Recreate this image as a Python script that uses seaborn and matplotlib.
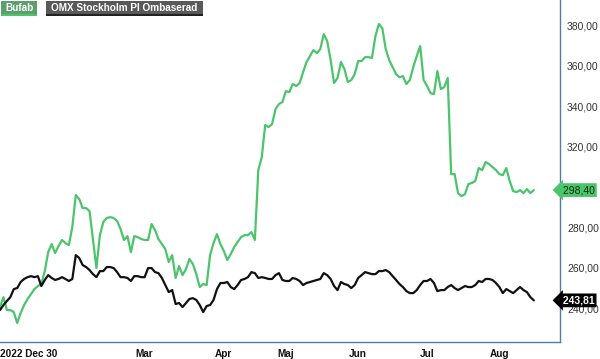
import matplotlib
matplotlib.use("Agg")
import matplotlib.pyplot as plt
import matplotlib.transforms as mtransforms
from matplotlib.patches import Rectangle
import seaborn as sns
import pandas as pd

sns.set_theme(style="white")
plt.rcParams['font.family'] = ['Liberation Sans', 'DejaVu Sans']

# ---- data (one value per trading day, starting 2022-12-30) ----
bufab = [240.5, 245.4, 239.0, 239.0, 238.0, 232.6, 237.5, 241.5, 244.5, 246.9,
         249.4, 250.9, 251.9, 258.3, 267.7, 271.7, 267.2, 270.7, 273.7, 272.2,
         271.2, 280.1, 295.9, 294.0, 289.5, 289.5, 288.0, 273.7, 259.8, 276.1,
         282.6, 284.6, 285.0, 284.6, 283.1, 279.1, 273.7, 275.6, 267.7, 275.6,
         275.1, 274.2, 273.7, 273.7, 281.6, 278.6, 274.2, 271.7, 269.2, 262.8,
         266.2, 254.9, 260.8, 256.3, 259.3, 264.3, 261.8, 256.8, 250.4, 251.9,
         251.4, 266.2, 272.2, 276.6, 271.7, 268.2, 263.8, 266.7, 270.2, 272.7,
         275.1, 276.1, 276.1, 277.6, 273.7, 308.3, 314.7, 330.6, 329.6, 331.1,
         338.5, 341.0, 342.0, 347.4, 346.9, 350.9, 349.9, 351.4, 356.8, 361.8,
         364.7, 367.7, 366.2, 368.2, 375.6, 372.2, 362.8, 351.4, 353.9, 361.8,
         358.3, 351.9, 352.9, 355.8, 362.3, 362.3, 364.2, 364.2, 363.8, 374.6,
         380.6, 378.6, 368.2, 362.8, 359.3, 355.8, 354.3, 354.8, 350.9, 352.9,
         359.3, 364.7, 369.7, 352.9, 349.9, 346.4, 345.9, 357.3, 348.4, 349.4,
         353.9, 306.3, 306.3, 296.9, 295.4, 296.4, 301.4, 301.9, 302.9, 309.3,
         308.3, 312.3, 311.3, 309.8, 308.3, 306.3, 305.8, 309.3, 302.9, 297.9,
         297.4, 298.4, 296.9, 298.9, 296.9, 298.40]

omx = [239.0, 241.5, 243.5, 245.4, 249.4, 249.9, 252.9, 254.4, 255.3, 255.8,
       255.3, 255.8, 250.9, 253.9, 256.3, 254.9, 253.9, 254.4, 255.3, 254.4,
       253.4, 254.4, 266.2, 264.8, 261.3, 260.3, 258.8, 256.8, 255.3, 258.3,
       258.3, 260.3, 260.3, 259.8, 257.8, 255.3, 255.3, 254.9, 253.4, 255.8,
       255.8, 255.3, 255.3, 259.8, 259.8, 257.8, 257.3, 254.9, 251.4, 247.9,
       248.9, 242.0, 242.5, 240.5, 242.5, 244.5, 244.9, 244.0, 241.5, 238.0,
       241.0, 241.5, 244.0, 249.4, 252.4, 252.4, 252.9, 250.4, 249.4, 251.4,
       253.9, 254.4, 255.3, 257.8, 257.3, 254.9, 255.3, 254.9, 254.4, 254.4,
       256.3, 257.3, 253.9, 253.4, 253.4, 254.9, 254.4, 253.4, 251.4, 252.4,
       252.9, 253.4, 253.9, 254.4, 257.3, 256.3, 254.4, 250.9, 248.9, 252.9,
       251.9, 251.4, 249.9, 251.4, 254.9, 256.3, 257.8, 257.3, 256.8, 256.8,
       258.3, 258.3, 258.8, 257.8, 255.8, 253.9, 251.9, 250.4, 248.4, 247.4,
       247.4, 248.9, 251.4, 253.4, 253.4, 254.4, 252.4, 248.4, 248.9, 248.9,
       250.4, 251.4, 249.9, 248.9, 249.9, 250.9, 250.4, 250.4, 251.4, 253.4,
       252.9, 254.4, 254.4, 253.9, 252.4, 250.4, 247.4, 249.4, 248.4, 247.4,
       248.9, 250.4, 248.9, 247.9, 245.4, 243.81]

series_names = ["Bufab", "OMX Stockholm PI Ombaserad"]
month_tick_days = [0, 22, 42, 65, 83, 104, 124, 145]
month_tick_labels = ["2022 Dec 30", "", "Mar", "Apr", "Maj", "Jun", "Jul", "Aug"]
event_day = 78
y_ticks = [240, 260, 280, 320, 340, 360, 380]

GREEN = "#4cc46c"
SPINE = "#4f7fa6"

df = pd.DataFrame({
    "day": list(range(len(bufab))) * 2,
    "value": bufab + omx,
    "series": [series_names[0]] * len(bufab) + [series_names[1]] * len(omx),
})

fig = plt.figure(figsize=(6, 3.59), dpi=100)
ax = fig.add_axes([0, 17 / 359, 560 / 600, 342 / 359])

sns.lineplot(data=df, x="day", y="value", hue="series",
             palette={series_names[0]: GREEN, series_names[1]: "#111111"},
             linewidth=1.6, legend=False, ax=ax)

ax.set_xlim(0, 162.6)
ax.set_ylim(223.2, 392.5)
ax.set_xlabel("")
ax.set_ylabel("")

for s in ["top", "left"]:
    ax.spines[s].set_visible(False)
for s in ["right", "bottom"]:
    ax.spines[s].set_color(SPINE)
    ax.spines[s].set_linewidth(1.0)

# y axis on the right
ax.yaxis.tick_right()
ax.set_yticks(y_ticks)
ax.set_yticklabels([f"{v:.2f}".replace(".", ",") for v in y_ticks])
ax.tick_params(axis="y", length=0, pad=5, labelsize=7.5, labelcolor="#333333")

# x axis
ax.set_xticks(month_tick_days + [event_day])
ax.set_xticklabels(month_tick_labels + [""])
ax.tick_params(axis="x", length=4.5, width=1.0, color=SPINE, pad=0.5,
               labelsize=7.2, labelcolor="#111111")
for lbl in ax.get_xticklabels():
    lbl.set_fontweight("bold")
ax.get_xticklabels()[0].set_horizontalalignment("left")
ax.xaxis.get_major_ticks()[-1].tick1line.set_color("#e04040")

# last-value tags
trans = mtransforms.blended_transform_factory(ax.transAxes, ax.transData)
ax.text(1.0, bufab[-1], " " + f"{bufab[-1]:.2f}".replace(".", ","), transform=trans,
        ha="left", va="center", fontsize=7.5, color="#0f2d14", clip_on=False,
        bbox=dict(boxstyle="larrow,pad=0.18", fc=GREEN, ec="none"))
ax.text(1.0, omx[-1], " " + f"{omx[-1]:.2f}".replace(".", ","), transform=trans,
        ha="left", va="center", fontsize=7.5, color="white", fontweight="bold",
        clip_on=False, bbox=dict(boxstyle="larrow,pad=0.18", fc="#000000", ec="none"))

# legend boxes at top-left
def legend_box(x0, x1, label, fc, uc):
    W, H = 600, 359
    fig.patches.append(Rectangle((x0 / W, 1 - 15 / H), (x1 - x0) / W, 14 / H,
                                 transform=fig.transFigure, fc=fc, ec="none"))
    fig.patches.append(Rectangle((x0 / W, 1 - 16 / H), (x1 - x0) / W, 2 / H,
                                 transform=fig.transFigure, fc=uc, ec="none"))
    fig.text((x0 + x1) / 2 / W, 1 - 8 / H, label, ha="center", va="center",
             fontsize=7.2, fontweight="bold", color="white")

legend_box(1, 37, series_names[0], "#5c9e6c", GREEN)
legend_box(46, 203, series_names[1], "#595959", "#222222")

fig.savefig("out.png", dpi=100)
